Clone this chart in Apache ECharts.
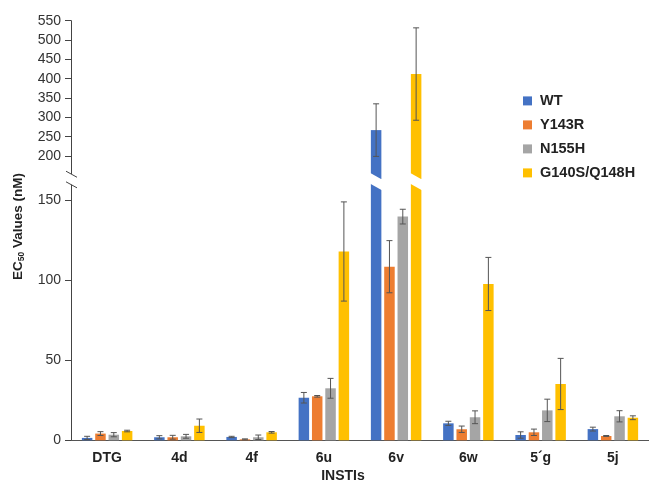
<!DOCTYPE html>
<html>
<head>
<meta charset="utf-8">
<script src="https://cdn.jsdelivr.net/npm/echarts@6/dist/echarts.min.js"></script>
<style>html,body{margin:0;padding:0;background:#fff}#c{width:649px;height:481px}</style>
</head>
<body>
<div id="c"></div>
<script>
// ---- data ----
const categories = ['DTG', '4d', '4f', '6u', '6v', '6w', '5\u00B4g', '5j'];
const seriesNames = ['WT', 'Y143R', 'N155H', 'G140S/Q148H'];
const wtValues    = [1.5, 1.9, 2.1, 26.6, 267, 10.6, 3.3, 7.0];
const wtErrors    = [1.0, 1.0, 0.4, 3.3, 68, 1.3, 2.0, 1.2];
const y143rValues = [4.2, 1.9, 0.6, 27.5, 108.5, 6.9, 5.0, 2.7];
const y143rErrors = [1.2, 1.2, 0.3, 0.5, 16.3, 2.0, 2.0, 0.3];
const n155hValues = [3.5, 2.5, 1.9, 32.5, 139.8, 14.4, 18.7, 15.0];
const n155hErrors = [1.3, 1.2, 1.4, 6.2, 4.6, 4.0, 7.0, 3.5];
const g140sValues = [5.8, 9.1, 5.0, 118, 412, 97.7, 35.2, 14.1];
const g140sErrors = [0.5, 4.2, 0.5, 31, 119.5, 16.6, 16.0, 1.2];
const lowerTicks = [0, 50, 100, 150];
const upperTicks = [200, 250, 300, 350, 400, 450, 500, 550];

// ---- style / layout ----
const values = [wtValues, y143rValues, n155hValues, g140sValues];
const errors = [wtErrors, y143rErrors, n155hErrors, g140sErrors];
const colors = ['#4472C4', '#ED7D31', '#A5A5A5', '#FFC000'];
const FONT = '"Liberation Sans", Arial, Helvetica, sans-serif';
const LOWER_MAX = 162, UPPER_MIN = 140, UPPER_MAX = 550;
const GRID_LEFT = 71, GRID_WIDTH = 580;
const BW = 10.5, GAPR = 0.27;
const SLOPE = 0.55;
function barOffset(i) { return (i - 1.5) * BW * (1 + GAPR); }

const chart = echarts.init(document.getElementById('c'), null, {renderer: 'canvas'});

function errRender(params, api) {
  const c = api.value(0), s = api.value(1), v = api.value(2), e = api.value(3);
  const x = api.coord([c, v])[0] + barOffset(s);
  const yt = api.coord([c, v + e])[1];
  const yb = api.coord([c, Math.max(v - e, 0)])[1];
  const st = {stroke: '#555', lineWidth: 1};
  return {type: 'group', children: [
    {type: 'line', shape: {x1: x, y1: yt, x2: x, y2: yb}, style: st},
    {type: 'line', shape: {x1: x - 3, y1: yt, x2: x + 3, y2: yt}, style: st},
    {type: 'line', shape: {x1: x - 3, y1: yb, x2: x + 3, y2: yb}, style: st}
  ]};
}
function upperMaskRender(params, api) {
  const c = api.value(0), s = api.value(1);
  const p = api.coord([c, UPPER_MIN]);
  const x = p[0] + barOffset(s), yb = p[1];
  const l = x - BW / 2 - 1, r = x + BW / 2 + 1;
  return {type: 'polygon', shape: {points: [[l, yb - 6.4], [r, yb - 6.4 + (r - l) * SLOPE], [r, yb + 2], [l, yb + 2]]},
    style: {fill: '#fff'}};
}
function lowerMaskRender(params, api) {
  const c = api.value(0), s = api.value(1);
  const p = api.coord([c, LOWER_MAX]);
  const x = p[0] + barOffset(s), yt = p[1];
  const l = x - BW / 2 - 1, r = x + BW / 2 + 1;
  return {type: 'polygon', shape: {points: [[l, yt - 2], [r, yt - 2], [r, yt + 2.4 + (r - l) * SLOPE], [l, yt + 2.4]]},
    style: {fill: '#fff'}};
}

const lowerErr = [], upperErr = [], breakItems = [];
values.forEach((arr, s) => arr.forEach((v, c) => {
  const item = [c, s, v, errors[s][c]];
  if (v > LOWER_MAX) { upperErr.push(item); breakItems.push([c, s, v]); }
  else lowerErr.push(item);
}));

const series = [];
seriesNames.forEach((name, i) => {
  series.push({name, type: 'bar', xAxisIndex: 0, yAxisIndex: 0, data: values[i],
    barWidth: BW, barGap: (GAPR * 100) + '%', itemStyle: {color: colors[i]}, clip: true});
});
seriesNames.forEach((name, i) => {
  series.push({name, type: 'bar', xAxisIndex: 1, yAxisIndex: 1,
    data: values[i].map(v => v > LOWER_MAX ? v : '-'),
    barWidth: BW, barGap: (GAPR * 100) + '%', itemStyle: {color: colors[i]}, clip: true});
});
series.push({type: 'custom', xAxisIndex: 0, yAxisIndex: 0, renderItem: lowerMaskRender, data: breakItems, z: 5, clip: false, silent: true});
series.push({type: 'custom', xAxisIndex: 1, yAxisIndex: 1, renderItem: upperMaskRender, data: breakItems, z: 5, clip: false, silent: true});
series.push({type: 'custom', xAxisIndex: 0, yAxisIndex: 0, renderItem: errRender, data: lowerErr, z: 6, clip: false, silent: true});
series.push({type: 'custom', xAxisIndex: 1, yAxisIndex: 1, renderItem: errRender, data: upperErr, z: 6, clip: false, silent: true});

const yLabel = {fontSize: 14, color: '#333', fontFamily: FONT, margin: 10};
const option = {
  animation: false,
  backgroundColor: '#fff',
  grid: [
    {left: GRID_LEFT, width: GRID_WIDTH, top: 181.1, height: 259.2},
    {left: GRID_LEFT, width: GRID_WIDTH, top: 20.7, height: 158.5}
  ],
  xAxis: [
    {gridIndex: 0, type: 'category', data: categories,
      axisLine: {lineStyle: {color: '#555', width: 1.2}}, axisTick: {show: false},
      axisLabel: {margin: 11, fontSize: 14, fontWeight: 'bold', color: '#222', fontFamily: FONT}},
    {gridIndex: 1, type: 'category', data: categories, show: false}
  ],
  yAxis: [
    {gridIndex: 0, type: 'value', min: 0, max: LOWER_MAX,
      axisLine: {show: true, lineStyle: {color: '#444', width: 1}},
      axisTick: {show: true, length: 6, lineStyle: {color: '#444'}, customValues: lowerTicks},
      axisLabel: Object.assign({customValues: lowerTicks}, yLabel), splitLine: {show: false}},
    {gridIndex: 1, type: 'value', min: UPPER_MIN, max: UPPER_MAX,
      axisLine: {show: true, lineStyle: {color: '#444', width: 1}},
      axisTick: {show: true, length: 6, lineStyle: {color: '#444'}, customValues: upperTicks},
      axisLabel: Object.assign({customValues: upperTicks}, yLabel), splitLine: {show: false}}
  ],
  legend: {orient: 'vertical', left: 518, top: 88.4, itemWidth: 9, itemHeight: 9, itemGap: 9,
    icon: 'rect', selectedMode: false, data: seriesNames,
    textStyle: {fontSize: 14.5, fontWeight: 'bold', color: '#222', fontFamily: FONT, padding: [0, 0, 0, 3]}},
  series
};
chart.setOption(option);

// axis break decoration + titles
const ub = chart.convertToPixel({yAxisIndex: 1}, UPPER_MIN);
const lt = chart.convertToPixel({yAxisIndex: 0}, LOWER_MAX);
const ax = GRID_LEFT;
const slash = {stroke: '#444', lineWidth: 1};
chart.setOption({graphic: [
  {type: 'rect', z: 100, shape: {x: ax - 3, y: ub - 5.2, width: 6, height: (lt + 3.6) - (ub - 5.2)}, style: {fill: '#fff'}},
  {type: 'line', z: 101, shape: {x1: ax - 5, y1: ub - 8, x2: ax + 6, y2: ub - 8 + 11 * SLOPE}, style: slash},
  {type: 'line', z: 101, shape: {x1: ax - 5, y1: lt + 0.7, x2: ax + 6, y2: lt + 0.7 + 11 * SLOPE}, style: slash},
  {type: 'text', z: 101, x: 18, y: 226.5, rotation: Math.PI / 2,
    style: {text: '{a|EC}{s|50}{a| Values (nM)}', align: 'center', verticalAlign: 'middle',
      rich: {a: {fontSize: 13.5, fontWeight: 'bold', fill: '#222', fontFamily: FONT, lineHeight: 16},
             s: {fontSize: 8.5, fontWeight: 'bold', fill: '#222', fontFamily: FONT, lineHeight: 16, verticalAlign: 'bottom'}}}},
  {type: 'text', z: 101, x: 343, y: 476.5,
    style: {text: 'INSTIs', align: 'center', verticalAlign: 'middle', fontSize: 14, fontWeight: 'bold', fill: '#222', fontFamily: FONT}}
]});
</script>
</body>
</html>
